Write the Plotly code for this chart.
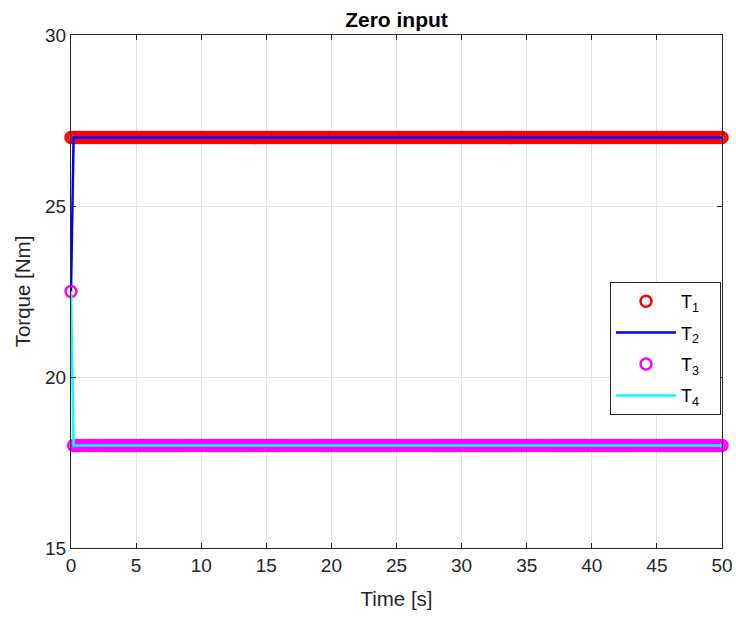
import numpy as np
import plotly.graph_objects as go

# simulation time base [s]
dt = 0.2
time_s = np.arange(0, 50 + dt / 2, dt)
n = len(time_s)

# torque histories [Nm] for the zero-input run
T1 = [27.0] * n
T2 = [22.5] + [27.0] * (n - 1)
T3 = [22.5] + [18.0] * (n - 1)
T4 = [22.5] + [18.0] * (n - 1)

x_ticks = [0, 5, 10, 15, 20, 25, 30, 35, 40, 45, 50]
y_ticks = [15, 20, 25, 30]

axis_col = "#262626"
grid_col = "#e6e6e6"
FONT = "Liberation Sans, Arial, Helvetica, sans-serif"
PAD = "&nbsp;&nbsp;&nbsp;"

fig = go.Figure()
fig.add_trace(go.Scatter(
    x=time_s, y=T1, mode="markers", name="T<sub>1</sub>" + PAD, legendgroup="g1",
    cliponaxis=False,
    marker=dict(symbol="circle-open", size=11, color="#ff0000",
                line=dict(width=2.5, color="#ff0000"))))
fig.add_trace(go.Scatter(
    x=time_s, y=T2, mode="lines", name="T<sub>2</sub>" + PAD, legendgroup="g2",
    line=dict(color="#0000ff", width=2.5)))
fig.add_trace(go.Scatter(
    x=time_s, y=T3, mode="markers", name="T<sub>3</sub>" + PAD, legendgroup="g3",
    cliponaxis=False,
    marker=dict(symbol="circle-open", size=11, color="#ff00ff",
                line=dict(width=2.5, color="#ff00ff"))))
fig.add_trace(go.Scatter(
    x=time_s, y=T4, mode="lines", name="T<sub>4</sub>" + PAD, legendgroup="g4",
    line=dict(color="#00ffff", width=2.5)))

fig.update_layout(
    width=736, height=618,
    margin=dict(l=71, r=14, t=35, b=70, autoexpand=False),
    paper_bgcolor="white", plot_bgcolor="white",
    font=dict(family=FONT, color=axis_col, size=19),
    title=dict(text="<b>Zero input</b>", x=(71 + 722) / 2 / 736, xanchor="center",
               y=1 - 20 / 618, yanchor="middle",
               font=dict(size=21, color="black")),
    showlegend=True,
    legend=dict(x=0.9985, xanchor="right", y=0.5185, yanchor="top",
                bgcolor="white", bordercolor=axis_col, borderwidth=1,
                font=dict(size=18, color="black"),
                itemwidth=60, tracegroupgap=5),
)
fig.update_xaxes(
    range=[0, 50], tickvals=x_ticks, ticks="inside", ticklen=5,
    tickcolor=axis_col, showline=True, linecolor=axis_col, linewidth=1,
    mirror="ticks", showgrid=True, gridcolor=grid_col, zeroline=False,
    automargin=False,
    title=dict(text="Time [s]", font=dict(size=20.5), standoff=16),
    tickfont=dict(size=19),
)
fig.update_yaxes(
    range=[15, 30], tickvals=y_ticks, ticks="inside", ticklen=5,
    tickcolor=axis_col, showline=True, linecolor=axis_col, linewidth=1,
    mirror="ticks", showgrid=True, gridcolor=grid_col, zeroline=False,
    automargin=False,
    title=dict(text="Torque [Nm]", font=dict(size=20.5), standoff=8),
    tickfont=dict(size=19),
)

fig.write_html("out.html")
